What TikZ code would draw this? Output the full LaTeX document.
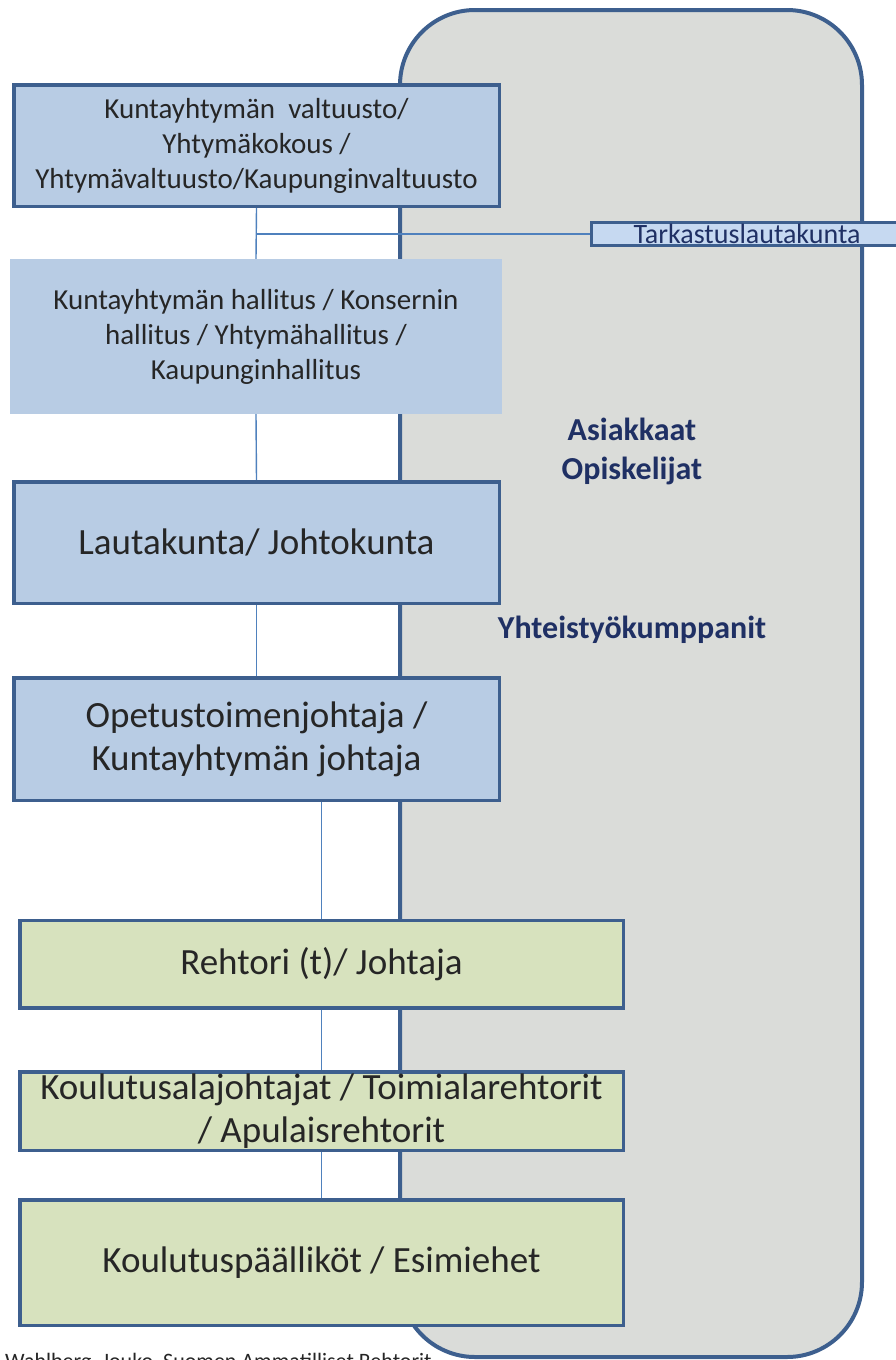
\documentclass[tikz,border=0pt]{standalone}
\usepackage{fontspec}
\setmainfont{Carlito}
\usetikzlibrary{backgrounds}

\definecolor{panelfill}{HTML}{DADCD9}
\definecolor{edge}{HTML}{3D5F8E}
\definecolor{bluefill}{HTML}{B8CCE4}
\definecolor{greenfill}{HTML}{D7E2BE}
\definecolor{tarkfill}{HTML}{C6D9F1}
\definecolor{linkblue}{HTML}{4F81BD}
\definecolor{inktext}{HTML}{262626}
\definecolor{navy}{HTML}{1F3064}

\pgfdeclarelayer{panel}
\pgfdeclarelayer{links}
\pgfsetlayers{panel,links,main}

\tikzset{
  box/.style={draw=edge, line width=3.5pt, inner sep=0pt, align=center, text=inktext},
  bluebox/.style={box, fill=bluefill},
  greenbox/.style={box, fill=greenfill},
  plainbox/.style={fill=bluefill, inner sep=0pt, align=center, text=inktext},
  link/.style={draw=linkblue, line width=1.4pt},
  bigpanel/.style={draw=edge, fill=panelfill, line width=4pt, rounded corners=75pt},
  sidelabel/.style={text=navy, font=\fontsize{32}{39}\selectfont\bfseries, align=center, inner sep=0pt},
  smallfont/.style={font=\fontsize{29}{35}\selectfont},
  bigfont/.style={font=\fontsize{37}{43}\selectfont},
}

\begin{document}
\begin{tikzpicture}[x=1pt, y=-1pt]
  \useasboundingbox (0,0) rectangle (896,1360);
  \clip (0,0) rectangle (896,1360);

  % organisation levels
  \node[bluebox, smallfont, minimum width=485.5pt, minimum height=121.5pt] (council) at (256.5,145.5)
    {Kuntayhtymän\ \ valtuusto/\\Yhtymäkokous /\\Yhtymävaltuusto/Kaupunginvaltuusto};
  \node[plainbox, smallfont, minimum width=492pt, minimum height=155pt] (board) at (256,336.5)
    {Kuntayhtymän hallitus / Konsernin\\hallitus / Yhtymähallitus /\\Kaupunginhallitus};
  \node[bluebox, bigfont, minimum width=485.5pt, minimum height=121.5pt] (committee) at (256.5,542.5)
    {Lautakunta/ Johtokunta};
  \node[bluebox, bigfont, minimum width=485.5pt, minimum height=122.5pt] (director) at (256.5,739)
    {Opetustoimenjohtaja /\\Kuntayhtymän johtaja};
  \node[greenbox, bigfont, minimum width=603.5pt, minimum height=87.5pt] (principal) at (321.5,964)
    {Rehtori (t)/ Johtaja};
  \node[greenbox, bigfont, minimum width=603.5pt, minimum height=78.5pt] (fieldheads) at (321.5,1111)
    {Koulutusalajohtajat / Toimialarehtorit\\/ Apulaisrehtorit};
  \node[greenbox, bigfont, minimum width=603.5pt, minimum height=125.5pt] (managers) at (321.5,1262.5)
    {Koulutuspäälliköt / Esimiehet};

  % audit committee on the side
  \node[draw=edge, fill=tarkfill, line width=3pt, inner sep=0pt, text=navy,
        font=\fontsize{28}{28}\selectfont, minimum width=311pt, minimum height=23pt] (audit) at (747,234)
    {Tarkastuslautakunta};

  % stakeholders inside the panel
  \node[sidelabel] (clients) at (632,451.5) {Asiakkaat\\Opiskelijat};
  \node[sidelabel] (partners) at (632,630) {Yhteistyökumppanit};

  % background panel and source line
  \begin{pgfonlayer}{panel}
    \node[anchor=base west, inner sep=0pt, text=inktext, font=\fontsize{22}{26}\selectfont] (source) at (5,1368)
      {Wahlberg, Jouko, Suomen Ammatilliset Rehtorit};
    \draw[bigpanel] (400,10) rectangle (862,1357);
  \end{pgfonlayer}

  % hierarchy links
  \begin{pgfonlayer}{links}
    \coordinate (tee) at (council.south |- audit.west);
    \draw[link] (council.south) -- (board.north);
    \draw[link] (tee) -- (audit.west);
    \draw[link] (board.south) -- (committee.north);
    \draw[link] (committee.south) -- (director.north);
    \draw[link] (principal.north) -- (principal.north |- director.south);
    \draw[link] (principal.south) -- (fieldheads.north);
    \draw[link] (fieldheads.south) -- (managers.north);
  \end{pgfonlayer}
\end{tikzpicture}
\end{document}
